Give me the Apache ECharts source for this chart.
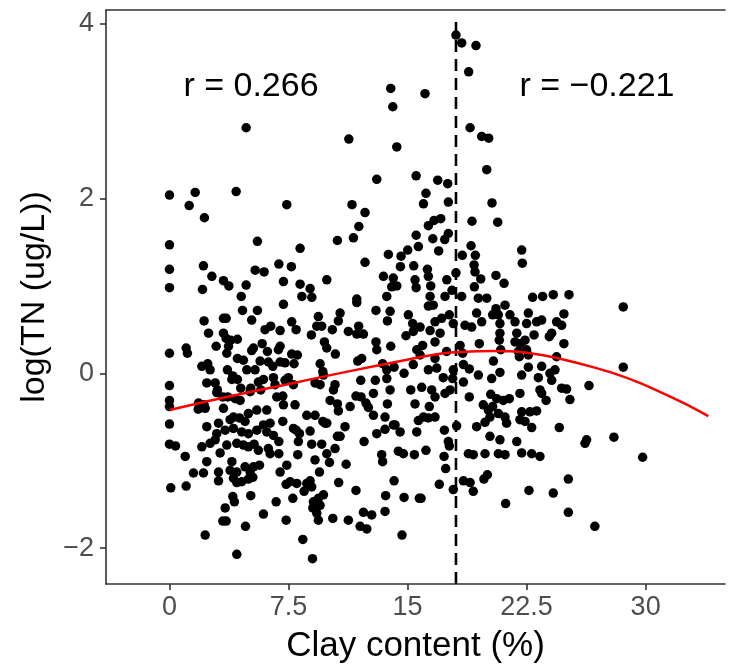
<!DOCTYPE html>
<html>
<head>
<meta charset="utf-8">
<script src="https://cdn.jsdelivr.net/npm/echarts@6/dist/echarts.min.js"></script>
<style>
html,body{margin:0;padding:0;background:#fff;}
#chart{width:734px;height:671px;}
</style>
</head>
<body>
<div id="chart"></div>
<script>
// ---- data (clay content %, log TN) ----
const xTicks = [0, 7.5, 15, 22.5, 30];
const yTicks = [-2, 0, 2, 4];
const breakClay = 18.05;      // breakpoint (dashed line)
const breakTop = 4.02;
const rLeft = 'r = 0.266';
const rRight = 'r = \u22120.221';

const fitClay = [0, 3.6, 7.3, 11.2, 15.2, 17.25, 19.35, 20.4, 21.45, 22.5, 23.55, 25.0, 26.5, 28.0, 29.5, 31.0, 32.5, 33.95];
const fitTN   = [-0.42, -0.27, -0.13, 0.02, 0.165, 0.23, 0.253, 0.256, 0.252, 0.235, 0.206, 0.15, 0.08, 0.0, -0.1, -0.22, -0.35, -0.49];

const samplesUpperLeft = [[13.94,3.26],[14.07,3.05],[4.83,2.81],[11.3,2.68],[14.32,2.59],[13.06,2.22],[15.54,2.26],[0,2.04],[1.62,2.07],[1.24,1.92],[2.2,1.78],[4.2,2.08],[7.39,1.93],[11.5,1.93],[12.32,1.84],[11.93,1.68],[11.59,1.55],[10.58,1.52],[15.54,1.58],[15.68,1.45],[15.01,1.41],[14.59,1.34],[13.79,1.36],[0,1.47],[5.54,1.51],[8.23,1.43],[12.32,1.27],[14.55,1.22],[15.39,1.23],[0,1.19],[2.14,1.23],[2.67,1.11],[3.4,1.06],[3.74,1.0],[4.83,1.01],[5.4,1.18],[5.96,1.16],[6.89,1.25],[7.68,1.22],[7.18,1.05],[8.23,1.02],[8.86,0.97],[9.91,1.07],[13.48,1.11],[14.1,1.09],[14.32,1.0],[14.0,0.99],[15.47,1.07],[0,0.98],[2.08,0.96],[4.52,0.88],[8.34,0.88],[8.97,0.87],[11.8,0.85],[13.69,0.88],[15.54,0.98]];

const samplesUpperRight = [[18.05,3.87],[18.41,3.78],[19.31,3.75],[18.85,3.45],[16.1,3.2],[18.94,2.81],[19.67,2.71],[20.11,2.69],[19.99,2.33],[16.9,2.21],[17.53,2.17],[16.16,2.06],[16.0,1.94],[17.57,1.96],[20.32,1.95],[19.06,1.74],[20.68,1.73],[17.09,1.77],[16.67,1.75],[16.31,1.69],[16.59,1.54],[17.57,1.6],[17.34,1.53],[16.96,1.4],[19.0,1.46],[18.45,1.35],[19.27,1.35],[22.19,1.41],[22.23,1.26],[16.25,1.19],[16.31,1.11],[18.05,1.15],[19.19,1.24],[19.25,1.16],[17.47,1.07],[19.61,1.08],[20.57,1.12],[21.08,1.03],[16.46,1.0],[17.8,0.95],[19.21,0.99],[16.42,0.88],[17.36,0.88],[18.41,0.88],[19.46,0.86],[19.99,0.86],[22.88,0.87],[23.51,0.88],[24.18,0.9],[25.17,0.9]];

const samplesLowerLeft = [[7.18,0.79],[4.60,0.72],[5.54,0.72],[2.18,0.60],[3.40,0.63],[3.57,0.63],[5.18,0.61],[7.70,0.59],[9.38,0.65],[10.75,0.69],[10.64,0.60],[11.8,0.81],[13.01,0.72],[13.90,0.71],[13.73,0.60],[15.05,0.67],[15.32,0.57],
[6.02,0.50],[6.38,0.54],[6.97,0.49],[7.98,0.50],[8.94,0.44],[9.28,0.54],[9.59,0.54],[10.26,0.50],[11.27,0.48],[11.92,0.54],[12.22,0.45],[11.80,0.45],[14.90,0.43],[15.36,0.48],[2.46,0.46],[3.40,0.46],[3.57,0.40],[3.86,0.38],[4.28,0.39],
[1.05,0.29],[1.13,0.23],[2.94,0.31],[3.72,0.31],[3.61,0.23],[4.28,0.17],[4.66,0.15],[5.18,0.26],[5.29,0.29],[5.84,0.34],[6.17,0.25],[6.86,0.27],[6.97,0.31],[7.70,0.22],[8.06,0.21],[9.76,0.36],[9.91,0.29],[10.45,0.22],[13.01,0.36],[13.06,0.27],[13.94,0.31],[15.58,0.27],[0,0.23],
[2.04,0.08],[2.41,0.11],[2.56,0.04],[3.65,0.04],[3.99,-0.03],[4.28,-0.07],[4.87,0.04],[5.39,0.04],[5.71,0.14],[6.23,0.13],[6.51,0.08],[6.97,0.13],[7.28,0.12],[7.85,0.11],[9.49,0.11],[9.66,0.02],[9.70,-0.02],[11.86,0.14],[12.11,0.17],[13.43,0.11],[13.69,0.04],[14.15,0.07],[14.78,0.00],[15.36,0.10],[15.79,0.21],
[0,-0.14],[2.35,-0.11],[2.88,-0.11],[3.02,-0.19],[3.93,-0.07],[4.49,-0.17],[5.12,-0.17],[5.60,-0.10],[5.92,-0.07],[6.65,-0.13],[6.55,-0.05],[7.28,-0.08],[7.81,-0.13],[7.49,-0.05],[9.17,-0.11],[9.49,-0.13],[10.43,-0.13],[10.33,-0.19],[12.05,-0.08],[12.97,-0.08],[13.69,-0.06],[13.90,-0.19],[15.20,-0.19],
[0,-0.31],[0,-0.38],[1.83,-0.34],[2.18,-0.36],[2.98,-0.22],[3.36,-0.27],[3.67,-0.27],[4.14,-0.29],[4.45,-0.31],[5.08,-0.21],[5.75,-0.19],[6.76,-0.27],[7.14,-0.26],[7.18,-0.36],[7.91,-0.36],[10.12,-0.31],[10.58,-0.35],[10.64,-0.43],[11.38,-0.38],[11.75,-0.26],[12.07,-0.27],[12.38,-0.34],[12.85,-0.23],[13.73,-0.35],[15.47,-0.35],
[1.81,-0.41],[2.25,-0.40],[3.40,-0.40],[4.03,-0.50],[4.41,-0.51],[4.97,-0.46],[5.50,-0.42],[6.13,-0.42],[7.14,-0.55],[7.81,-0.63],[8.65,-0.48],[9.17,-0.48],[9.66,-0.55],[9.91,-0.57],[12.53,-0.39],[12.85,-0.48],[13.58,-0.50],[14.11,-0.59],[15.68,-0.54],[3.82,-0.53],[4.76,-0.55],
[0,-0.58],[2.35,-0.61],[3.09,-0.57],[2.98,-0.69],[3.51,-0.65],[4.03,-0.63],[4.55,-0.67],[4.97,-0.69],[5.50,-0.65],[5.92,-0.59],[6.34,-0.57],[6.13,-0.67],[6.55,-0.71],[7.98,-0.65],[8.19,-0.69],[8.86,-0.66],[9.80,-0.57],[11.06,-0.61],[10.75,-0.72],[13.06,-0.69],[13.58,-0.64],[14.21,-0.59],[14.53,-0.67],[15.58,-0.67],
[0,-0.81],[0.38,-0.83],[0.99,-0.95],[2.04,-0.84],[2.56,-0.80],[2.88,-0.76],[3.61,-0.82],[4.24,-0.80],[4.66,-0.82],[4.97,-0.84],[5.33,-0.81],[5.60,-0.88],[6.23,-0.86],[6.34,-0.92],[6.89,-0.92],[6.89,-0.78],[8.12,-0.78],[8.08,-0.93],[8.96,-0.81],[9.59,-0.81],[9.91,-0.92],[10.43,-0.86],[10.58,-0.72],[12.26,-0.78],[13.37,-0.93],[14.42,-0.89],[14.74,-0.92],[15.43,-0.93],
[2.35,-1.01],[3.09,-1.13],[3.19,-0.91],[3.93,-1.01],[3.82,-1.11],[4.24,-1.13],[4.76,-1.07],[5.29,-1.07],[5.08,-1.13],[5.67,-1.05],[6.97,-1.13],[7.39,-1.05],[9.17,-0.99],[9.45,-1.13],[10.08,-1.02],[11.13,-1.04],[13.43,-1.01],
[0.08,-1.31],[1.05,-1.29],[1.51,-1.14],[2.14,-1.14],[3.09,-1.23],[4.03,-1.20],[4.24,-1.25],[4.55,-1.24],[4.97,-1.21],[5.25,-1.19],[7.35,-1.27],[7.60,-1.24],[8.02,-1.26],[8.48,-1.35],[8.65,-1.26],[8.86,-1.23],[8.96,-1.30],[10.66,-1.25],[11.75,-1.34],[14.15,-1.23],
[3.99,-1.41],[4.09,-1.47],[5.12,-1.40],[6.72,-1.47],[7.77,-1.43],[9.07,-1.47],[9.38,-1.43],[9.70,-1.39],[13.62,-1.40],[14.78,-1.42],[15.74,-1.43],[9.49,-1.51],
[3.51,-1.54],[5.92,-1.61],[9.03,-1.54],[9.28,-1.60],[10.29,-1.66],[11.27,-1.68],[12.01,-1.75],[12.22,-1.59],[12.74,-1.62],[13.58,-1.58],[3.36,-1.69],[3.57,-1.69],[7.35,-1.68],[9.38,-1.68],
[2.25,-1.85],[4.79,-1.75],[8.40,-1.90],[12.43,-1.78],[14.65,-1.85],[4.24,-2.07],[9.01,-2.12]];

const samplesLowerRight = [[28.59,0.76],[16.31,0.77],[16.62,0.78],[20.57,0.74],[21.14,0.78],[15.79,0.53],[16.73,0.59],[17.15,0.63],[17.63,0.67],[17.88,0.57],[18.62,0.55],[19.04,0.53],[19.35,0.69],[19.67,0.59],[20.36,0.67],[20.72,0.67],[20.82,0.57],[21.45,0.67],[21.77,0.59],[22.61,0.69],[22.50,0.57],[23.13,0.59],[23.45,0.61],[24.39,0.59],[24.85,0.68],[24.71,0.55],[16.42,0.49],[17.05,0.46],[20.82,0.46],[21.88,0.46],[22.97,0.44],[23.93,0.42],[24.08,0.46],
[15.95,0.32],[16.73,0.36],[17.46,0.25],[18.31,0.32],[18.47,0.23],[19.52,0.34],[20.78,0.38],[20.87,0.27],[21.77,0.36],[22.09,0.34],[22.40,0.38],[21.98,0.25],[22.50,0.27],[22.04,0.19],[22.61,0.21],[24.39,0.19],[24.85,0.34],
[16.73,0.17],[16.84,0.06],[16.31,0.04],[17.25,-0.05],[17.88,0.04],[17.84,-0.06],[18.52,0.10],[18.89,0.05],[19.46,-0.02],[20.41,0.14],[20.30,-0.06],[20.82,0.01],[22.19,-0.02],[22.61,0.07],[23.45,0.08],[23.24,-0.05],[23.97,0.00],[24.29,0.04],[24.08,-0.08],
[15.89,-0.16],[16.52,-0.19],[16.73,-0.27],[17.36,-0.23],[17.68,-0.19],[18.52,-0.10],[18.89,-0.27],[20.24,-0.24],[20.61,-0.29],[21.03,-0.31],[21.41,-0.29],[22.08,-0.23],[23.34,-0.19],[23.73,-0.31],[24.71,-0.17],[25.02,-0.18],[25.23,-0.30],[26.43,-0.14],[28.59,0.07],[23.45,-0.23],[19.77,-0.36],[20.36,-0.38],
[16.37,-0.38],[16.0,-0.50],[16.73,-0.50],[16.31,-0.51],[20.09,-0.42],[20.72,-0.46],[21.14,-0.50],[22.19,-0.44],[22.71,-0.44],[23.13,-0.43],[20.19,-0.50],[19.35,-0.61],[19.88,-0.56],[21.24,-0.57],[22.08,-0.53],[22.40,-0.55],[22.82,-0.62],[18.09,-0.60],[17.32,-0.65],[24.56,-0.62],[28.0,-0.73],
[20.19,-0.72],[20.82,-0.76],[21.88,-0.78],[17.57,-0.78],[17.63,-0.83],[16.16,-0.88],[17.30,-0.95],[18.83,-0.92],[19.14,-0.93],[19.88,-0.92],[20.72,-0.92],[21.14,-0.93],[22.19,-0.91],[22.82,-0.92],[23.34,-0.95],[26.28,-0.76],[26.18,-0.80],[29.81,-0.96],[17.40,-1.09],
[20.03,-1.16],[19.81,-1.21],[17.0,-1.27],[18.52,-1.23],[18.94,-1.25],[17.88,-1.33],[19.14,-1.35],[15.85,-1.43],[21.18,-1.49],[22.65,-1.34],[24.18,-1.37],[25.13,-1.21],[25.13,-1.59],[26.80,-1.75]];

// ---- chart ----
const samples = samplesUpperLeft.concat(samplesUpperRight, samplesLowerLeft, samplesLowerRight);
const fitLine = fitClay.map((c, i) => [c, fitTN[i]]);
const X_MIN = -4, X_MAX = 35, Y_MIN = -2.41, Y_MAX = 4.157;
const FONT = '"Liberation Sans", Arial, Helvetica, sans-serif';
const axisColor = '#333333';
const minusFmt = v => (v < 0 ? '\u2212' + Math.abs(v) : String(v));

const chart = echarts.init(document.getElementById('chart'), null, {renderer: 'canvas'});
chart.setOption({
  animation: false,
  backgroundColor: '#ffffff',
  grid: {left: 106, right: 9, top: 10, bottom: 87, containLabel: false},
  xAxis: [{
    type: 'value', min: X_MIN, max: X_MAX,
    name: 'Clay content (%)', nameLocation: 'middle', nameGap: 45,
    nameTextStyle: {fontFamily: FONT, fontSize: 35, color: '#000'},
    axisLine: {show: true, onZero: false, lineStyle: {color: axisColor, width: 1.6}},
    axisTick: {show: true, length: 6, customValues: xTicks, lineStyle: {color: axisColor, width: 1.6}},
    axisLabel: {customValues: xTicks, fontFamily: FONT, fontSize: 27, color: '#4d4d4d', margin: 10, formatter: minusFmt},
    splitLine: {show: false}
  }, {
    type: 'value', min: X_MIN, max: X_MAX, position: 'top',
    axisLine: {show: true, onZero: false, lineStyle: {color: axisColor, width: 1.6}},
    axisTick: {show: false}, axisLabel: {show: false}, splitLine: {show: false}
  }],
  yAxis: {
    type: 'value', min: Y_MIN, max: Y_MAX,
    name: 'log(TN (ug/L))', nameLocation: 'middle', nameGap: 54, nameRotate: 90,
    nameTextStyle: {fontFamily: FONT, fontSize: 34, color: '#000'},
    axisLine: {show: true, onZero: false, lineStyle: {color: axisColor, width: 1.6}},
    axisTick: {show: true, length: 6, customValues: yTicks, lineStyle: {color: axisColor, width: 1.6}},
    axisLabel: {customValues: yTicks, fontFamily: FONT, fontSize: 27, color: '#4d4d4d', margin: 12, formatter: minusFmt},
    splitLine: {show: false}
  },
  graphic: [
    {type: 'text', x: 251, y: 87, style: {text: rLeft, font: '34px ' + FONT, fill: '#000', textAlign: 'center', textVerticalAlign: 'middle'}},
    {type: 'text', x: 597, y: 87, style: {text: rRight, font: '34px ' + FONT, fill: '#000', textAlign: 'center', textVerticalAlign: 'middle'}}
  ],
  series: [
    {
      type: 'scatter', data: samples, symbol: 'circle', symbolSize: 9.5,
      itemStyle: {color: '#000', opacity: 1}, z: 2
    },
    {
      type: 'line', data: [[breakClay, Y_MIN], [breakClay, breakTop]], showSymbol: false, symbol: 'none',
      lineStyle: {color: '#000', width: 2.6, type: [12, 7]}, z: 3
    },
    {
      type: 'line', data: fitLine, smooth: 0.3, showSymbol: false, symbol: 'none',
      lineStyle: {color: '#ff0000', width: 2.5}, z: 4
    }
  ]
});
</script>
</body>
</html>
